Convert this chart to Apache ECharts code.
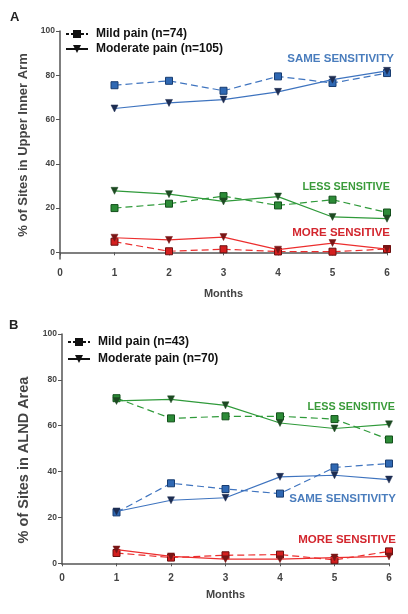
<!DOCTYPE html>
<html><head><meta charset="utf-8">
<script src="https://cdn.jsdelivr.net/npm/echarts@6/dist/echarts.min.js"></script>
<style>html,body{margin:0;padding:0;background:#fff}#c{width:408px;height:614px}</style>
</head><body><div id="c"></div>
<script>
const months = [1, 2, 3, 4, 5, 6];
const xTicks = [0, 1, 2, 3, 4, 5, 6];
const yTicks = [0, 20, 40, 60, 80, 100];

// Panel A: Upper Inner Arm
const aSameMild = [75.5, 77.5, 73, 79.5, 76.5, 81];
const aSameMod = [65, 67.5, 69, 72.5, 78, 82];
const aLessMild = [20, 22, 25.4, 21.2, 23.8, 18];
const aLessMod = [27.8, 26.3, 23, 25.2, 16, 15.2];
const aMoreMild = [4.8, 0.5, 1.4, 0.4, 0.3, 1.5];
const aMoreMod = [6.6, 5.6, 6.9, 1.2, 4.2, 1.5];

// Panel B: ALND Area
const bSameMild = [22.2, 34.9, 32.4, 30.4, 41.8, 43.5];
const bSameMod = [22.6, 27.5, 28.6, 37.7, 38.4, 36.5];
const bLessMild = [72, 63.2, 64.1, 64.1, 62.9, 54];
const bLessMod = [70.8, 71.5, 68.9, 61.2, 58.8, 60.6];
const bMoreMild = [4.5, 2.5, 3.5, 3.8, 1.5, 5.2];
const bMoreMod = [6, 3, 1.8, 1.8, 2.5, 3];

const legendA = ['Mild pain (n=74)', 'Moderate pain (n=105)'];
const legendB = ['Mild pain (n=43)', 'Moderate pain (n=70)'];

const FONT = 'Liberation Sans, Arial, sans-serif';
const pal = {
  blue: {line: '#3f74bf', sq: '#2f68b3', sqB: '#183c70', tri: '#1d2d52'},
  green: {line: '#2f9a3a', sq: '#2c8b37', sqB: '#14501c', tri: '#1d4a22'},
  red: {line: '#ec2e2e', sq: '#d41f1f', sqB: '#6b1010', tri: '#7a1616'}
};

function pairs(vals) { return months.map((m, i) => [m, vals[i]]); }
function mild(vals, c, idx) {
  return {type: 'line', xAxisIndex: idx, yAxisIndex: idx, data: pairs(vals), symbol: 'rect', symbolSize: 7,
    lineStyle: {color: c.line, width: 1.2, type: [7, 4]},
    itemStyle: {color: c.sq, borderColor: c.sqB, borderWidth: 1}, z: 3, silent: true};
}
function mod(vals, c, idx) {
  return {type: 'line', xAxisIndex: idx, yAxisIndex: idx, data: pairs(vals), symbol: 'triangle', symbolRotate: 180, symbolSize: 7,
    lineStyle: {color: c.line, width: 1.2},
    itemStyle: {color: c.tri, borderColor: c.tri, borderWidth: 0.5}, z: 4, silent: true};
}
function legSer(name, dashed, idx) {
  return {type: 'line', name: name, xAxisIndex: idx, yAxisIndex: idx, data: [],
    symbol: dashed ? 'rect' : 'triangle', symbolRotate: dashed ? 0 : 180, symbolSize: dashed ? 7 : 6,
    lineStyle: {color: '#111', width: 1.2, type: dashed ? [3, 2] : 'solid'},
    itemStyle: {color: '#111'}};
}

const axisCol = '#555';
function xAx(idx, gap) {
  return {type: 'value', gridIndex: idx, min: 0, max: 6, interval: 1,
    name: 'Months', nameLocation: 'middle', nameGap: gap,
    nameTextStyle: {fontFamily: FONT, fontWeight: 'bold', fontSize: 11, color: '#444'},
    axisLine: {lineStyle: {color: axisCol, width: 1.5}},
    axisTick: {show: true, length: 3, inside: false, lineStyle: {color: axisCol}},
    axisLabel: {fontFamily: FONT, fontWeight: 'bold', fontSize: 10, color: '#444', margin: 9},
    splitLine: {show: false}};
}
function yAx(idx, name, min, fs, pad) {
  return {type: 'value', gridIndex: idx, min: min, max: 100,
    name: name, nameLocation: 'middle', nameGap: 29,
    nameTextStyle: {fontFamily: FONT, fontWeight: 'bold', fontSize: fs, color: '#444', padding: pad},
    axisLine: {show: true, lineStyle: {color: axisCol, width: 1.5}},
    axisTick: {show: true, length: 4, customValues: yTicks, lineStyle: {color: axisCol}},
    axisLabel: {fontFamily: FONT, fontWeight: 'bold', fontSize: 8.5, color: '#444', margin: 5, customValues: yTicks},
    splitLine: {show: false}};
}

const chart = echarts.init(document.getElementById('c'), null, {renderer: 'canvas'});
chart.setOption({
  animation: false,
  backgroundColor: '#fff',
  grid: [
    {left: 60, right: 21, top: 31, height: 228},
    {left: 62, right: 19, top: 334, height: 230}
  ],
  xAxis: [xAx(0, 29), xAx(1, 25)],
  yAxis: [yAx(0, '% of Sites in Upper Inner Arm', -3, 13, [0, 0, 0, 0]), yAx(1, '% of Sites in ALND Area', -0.3, 14.5, [0, 22, 0, 0])],
  legend: [
    {data: legendA, left: 60, top: 23, orient: 'vertical', itemWidth: 22, itemHeight: 10, itemGap: 3,
      textStyle: {fontFamily: FONT, fontWeight: 'bold', fontSize: 12, color: '#111', padding: [0, 0, 0, 3]}, selectedMode: false},
    {data: legendB, left: 62, top: 331, orient: 'vertical', itemWidth: 22, itemHeight: 10, itemGap: 5,
      textStyle: {fontFamily: FONT, fontWeight: 'bold', fontSize: 12, color: '#111', padding: [0, 0, 0, 3]}, selectedMode: false}
  ],
  series: [
    legSer(legendA[0], true, 0), legSer(legendA[1], false, 0),
    legSer(legendB[0], true, 1), legSer(legendB[1], false, 1),
    mild(aSameMild, pal.blue, 0), mod(aSameMod, pal.blue, 0),
    mild(aLessMild, pal.green, 0), mod(aLessMod, pal.green, 0),
    mild(aMoreMild, pal.red, 0), mod(aMoreMod, pal.red, 0),
    mild(bSameMild, pal.blue, 1), mod(bSameMod, pal.blue, 1),
    mild(bLessMild, pal.green, 1), mod(bLessMod, pal.green, 1),
    mild(bMoreMild, pal.red, 1), mod(bMoreMod, pal.red, 1)
  ],
  graphic: [
    {type: 'text', left: 10, top: 11, style: {text: 'A', font: 'bold 13px ' + FONT, fill: '#222'}},
    {type: 'text', left: 9, top: 319, style: {text: 'B', font: 'bold 13px ' + FONT, fill: '#222'}},
    {type: 'text', right: 14, top: 53, style: {text: 'SAME SENSITIVITY', font: 'bold 11.5px ' + FONT, fill: '#4a7dbd'}},
    {type: 'text', right: 18, top: 182, style: {text: 'LESS SENSITIVE', font: 'bold 10.8px ' + FONT, fill: '#3a9b3a'}},
    {type: 'text', right: 18, top: 227, style: {text: 'MORE SENSITIVE', font: 'bold 11.5px ' + FONT, fill: '#d3262e'}},
    {type: 'text', right: 13, top: 402, style: {text: 'LESS SENSITIVE', font: 'bold 10.8px ' + FONT, fill: '#3a9b3a'}},
    {type: 'text', right: 12, top: 493, style: {text: 'SAME SENSITIVITY', font: 'bold 11.5px ' + FONT, fill: '#4a7dbd'}},
    {type: 'text', right: 12, top: 534, style: {text: 'MORE SENSITIVE', font: 'bold 11.5px ' + FONT, fill: '#d3262e'}}
  ]
});
</script></body></html>
